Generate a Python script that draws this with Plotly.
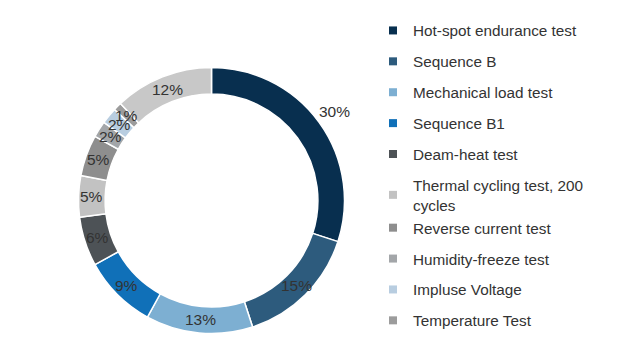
import math
import plotly.graph_objects as go

# ---- data ----
categories = [
    "Hot-spot endurance test",
    "Sequence B",
    "Mechanical load test",
    "Sequence B1",
    "Deam-heat test",
    "Thermal cycling test, 200<br>cycles",
    "Reverse current test",
    "Humidity-freeze test",
    "Impluse Voltage",
    "Temperature Test",
    "Other",
]
shares = [30, 15, 13, 9, 6, 5, 5, 2, 2, 1, 12]
legend_count = 10  # the last slice has no legend entry in the reference
colors = [
    "#082f4f", "#2d5b7d", "#7dafd2", "#1070b8", "#4d5256",
    "#c2c2c2", "#8e8e8e", "#a3a6a9", "#b8cde0", "#9c9c9c", "#c8c8c8",
]

W, H = 642, 359
OFF = 8  # page body margin
cx, cy, R = 211.5 - OFF, 200.5 - OFF, 133.0
hole = 0.80
FONT = "Liberation Sans, Arial, sans-serif"

fig = go.Figure()
fig.add_trace(go.Pie(
    labels=categories, values=shares, sort=False, direction="clockwise",
    rotation=0, hole=hole, textinfo="none", showlegend=False,
    marker=dict(colors=colors, line=dict(color="white", width=1.5)),
    domain=dict(x=[(cx - R) / W, (cx + R) / W], y=[1 - (cy + R) / H, 1 - (cy - R) / H]),
    hoverinfo="label+percent",
))

# legend entries (only the ten named categories); the two-line entry shares
# a group with the next one so no extra gap is added after it
groups = ["g0", "g1", "g2", "g3", "g4", "g5", "g5", "g7", "g8", "g9"]
for name, col, grp in zip(categories[:legend_count], colors[:legend_count], groups):
    fig.add_trace(go.Scatter(
        x=[None], y=[None], mode="markers", name=name,
        marker=dict(symbol="square", size=8, color=col),
        legendgroup=grp,
    ))

# percentage labels placed at each slice's mid-angle
total = sum(shares)
cum = 0
annotations = []
mid_r = R * (1 + hole) / 2
biggest = max(shares)
for v in shares:
    ang = (cum + v / 2) / total * 2 * math.pi
    cum += v
    r = R + 19 if v == biggest else mid_r
    px = cx + r * math.sin(ang)
    py = cy - r * math.cos(ang)
    annotations.append(dict(
        x=px / W, y=1 - py / H, xref="paper", yref="paper",
        xanchor="center", yanchor="middle",
        text=f"{round(v / total * 100)}%", showarrow=False,
        font=dict(size=15.5, color="#333333", family=FONT),
    ))

fig.update_layout(
    width=W, height=H,
    margin=dict(l=0, r=0, t=0, b=0),
    paper_bgcolor="white", plot_bgcolor="white",
    font=dict(family=FONT, size=15, color="#333333"),
    xaxis=dict(visible=False), yaxis=dict(visible=False),
    legend=dict(
        x=365 / W, y=1 - 6 / H, xanchor="left", yanchor="top",
        font=dict(size=15.3, color="#333333", family=FONT),
        tracegroupgap=8, itemwidth=30, bgcolor="rgba(0,0,0,0)",
    ),
    annotations=annotations,
)

fig.write_html("out.html")
